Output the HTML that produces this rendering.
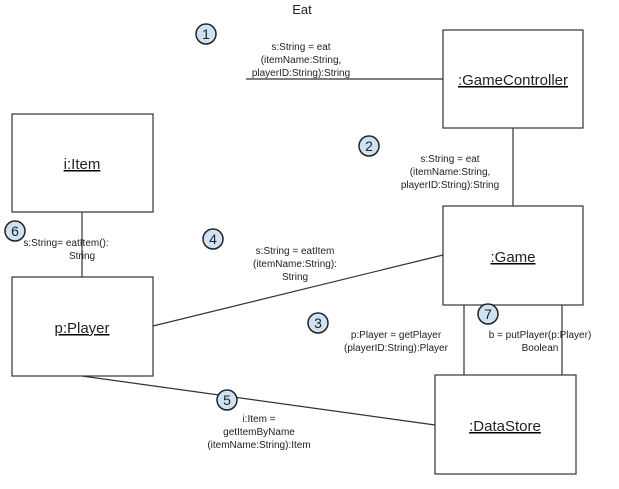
<!DOCTYPE html><html><head><style>body{margin:0;background:#fff}svg{display:block}text{font-family:"Liberation Sans",sans-serif;fill:#222}</style></head><body>
<svg width="619" height="489" viewBox="0 0 619 489" xmlns="http://www.w3.org/2000/svg">
<g stroke="#333" stroke-width="1.2" fill="none">
<line x1="246" y1="79" x2="443" y2="79"/>
<line x1="513" y1="128" x2="513" y2="206"/>
<line x1="82" y1="212" x2="82" y2="277"/>
<line x1="153" y1="326" x2="443" y2="255"/>
<line x1="82" y1="376" x2="435" y2="425"/>
<line x1="464" y1="305" x2="464" y2="375"/>
<line x1="562" y1="305" x2="562" y2="375"/>
</g>
<g fill="#fff" stroke="#333" stroke-width="1.2">
<rect x="443" y="30" width="140" height="98"/>
<rect x="12" y="114" width="141" height="98"/>
<rect x="443" y="206" width="140" height="99"/>
<rect x="12" y="277" width="141" height="99"/>
<rect x="435" y="375" width="141" height="99"/>
</g>
<g font-size="15" text-anchor="middle" text-decoration="underline">
<text x="513" y="85">:GameController</text>
<text x="82" y="169">i:Item</text>
<text x="513" y="262">:Game</text>
<text x="82" y="333">p:Player</text>
<text x="505" y="431">:DataStore</text>
</g>
<text x="302" y="14" font-size="13" text-anchor="middle">Eat</text>
<g font-size="10" text-anchor="middle">
<text x="301" y="50">s:String = eat</text><text x="301" y="63">(itemName:String,</text><text x="301" y="76">playerID:String):String</text>
<text x="450" y="162">s:String = eat</text><text x="450" y="175">(itemName:String,</text><text x="450" y="188">playerID:String):String</text>
<text x="295" y="254">s:String = eatItem</text><text x="295" y="267">(itemName:String):</text><text x="295" y="280">String</text>
<text x="66" y="246">s:String= eatItem():</text><text x="82" y="259">String</text>
<text x="396" y="338">p:Player = getPlayer</text><text x="396" y="351">(playerID:String):Player</text>
<text x="540" y="338">b = putPlayer(p:Player)</text><text x="540" y="351">Boolean</text>
<text x="259" y="422">i:Item =</text><text x="259" y="435">getItemByName</text><text x="259" y="448">(itemName:String):Item</text>
</g>
<g fill="#cfe2f3" stroke="#222" stroke-width="1.5">
<circle cx="206" cy="34" r="10"/><circle cx="369" cy="146" r="10"/><circle cx="213" cy="239" r="10"/><circle cx="15" cy="231" r="10"/><circle cx="318" cy="323" r="10"/><circle cx="488" cy="314" r="10"/><circle cx="227" cy="400" r="10"/>
</g>
<g font-size="14" text-anchor="middle">
<text x="206" y="39">1</text><text x="369" y="151">2</text><text x="213" y="244">4</text><text x="15" y="236">6</text><text x="318" y="328">3</text><text x="488" y="319">7</text><text x="227" y="405">5</text>
</g>
</svg></body></html>
